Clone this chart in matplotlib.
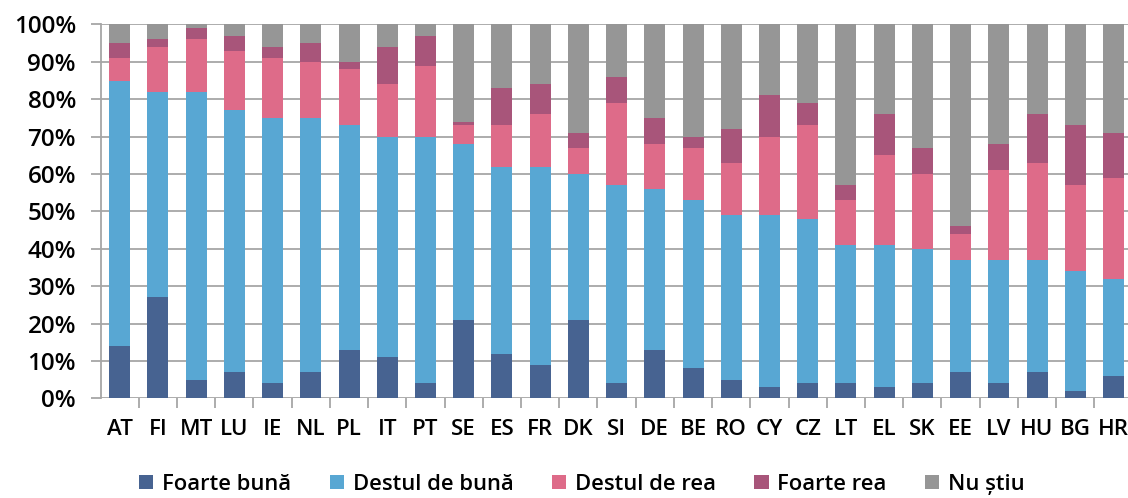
import numpy as np
import matplotlib.pyplot as plt
from matplotlib.patches import Patch
from matplotlib.ticker import FuncFormatter

# Ţări şi procente (%) pentru fiecare răspuns
countries = ['AT', 'FI', 'MT', 'LU', 'IE', 'NL', 'PL', 'IT', 'PT', 'SE', 'ES', 'FR', 'DK', 'SI',
             'DE', 'BE', 'RO', 'CY', 'CZ', 'LT', 'EL', 'SK', 'EE', 'LV', 'HU', 'BG', 'HR']
foarte_buna = [14, 27, 5, 7, 4, 7, 13, 11, 4, 21, 12, 9, 21, 4,
               13, 8, 5, 3, 4, 4, 3, 4, 7, 4, 7, 2, 6]
destul_buna = [71, 55, 77, 70, 71, 68, 60, 59, 66, 47, 50, 53, 39, 53,
               43, 45, 44, 46, 44, 37, 38, 36, 30, 33, 30, 32, 26]
destul_rea = [6, 12, 14, 16, 16, 15, 15, 14, 19, 5, 11, 14, 7, 22,
              12, 14, 14, 21, 25, 12, 24, 20, 7, 24, 26, 23, 27]
foarte_rea = [4, 2, 3, 4, 3, 5, 2, 10, 8, 1, 10, 8, 4, 7,
              7, 3, 9, 11, 6, 4, 11, 7, 2, 7, 13, 16, 12]
nu_stiu = [5, 4, 1, 3, 6, 5, 10, 6, 3, 26, 17, 16, 29, 14,
           25, 30, 28, 19, 21, 43, 24, 33, 54, 32, 24, 27, 29]

series = [foarte_buna, destul_buna, destul_rea, foarte_rea, nu_stiu]
labels = ['Foarte bună', 'Destul de bună', 'Destul de rea', 'Foarte rea', 'Nu știu']
colors = ['#476391', '#58A7D3', '#DE6B89', '#A8557A', '#969696']

plt.rcParams['font.family'] = ['Open Sans', 'DejaVu Sans']
plt.rcParams['font.weight'] = 'semibold'
grid_col = '#A6A6A6'

fig = plt.figure(figsize=(11.28, 4.98), dpi=100)
ax = fig.add_axes([0.0895, 0.2, 0.9105, 0.751])

x = np.arange(len(countries))
bottom = np.zeros(len(countries))
for vals, col in zip(series, colors):
    ax.bar(x, vals, bottom=bottom, width=0.55, color=col, zorder=3)
    bottom += np.array(vals)

# 坐标范围和网格
ax.set_xlim(-0.49, 26.38)
ax.set_ylim(0, 100)
ax.set_yticks(np.arange(0, 101, 10))
ax.yaxis.set_major_formatter(FuncFormatter(lambda v, p: f'{int(v)}%'))
ax.grid(axis='y', color=grid_col, linewidth=1.3, zorder=0)

ax.set_xticks(x)
ax.set_xticklabels(countries)
ax.set_xticks(x[:-1] + 0.5, minor=True)
ax.tick_params(axis='x', which='major', length=0, pad=15, labelsize=16)
ax.tick_params(axis='x', which='minor', length=7, width=1.3, color=grid_col)
ax.tick_params(axis='y', length=7, width=1.3, color=grid_col, labelsize=17.5, pad=11)

for s in ['top', 'right', 'bottom']:
    ax.spines[s].set_visible(False)
ax.spines['left'].set_color(grid_col)
ax.spines['left'].set_linewidth(1.3)
ax.spines['left'].set_zorder(4)

handles = [Patch(facecolor=c, edgecolor='none') for c in colors]
fig.legend(handles, labels, loc='center', bbox_to_anchor=(0.516, 0.028), ncol=5,
           frameon=False, fontsize=15.8, handlelength=0.65, handleheight=0.65,
           handletextpad=0.4, columnspacing=1.75)

fig.savefig('out.png', dpi=100)
